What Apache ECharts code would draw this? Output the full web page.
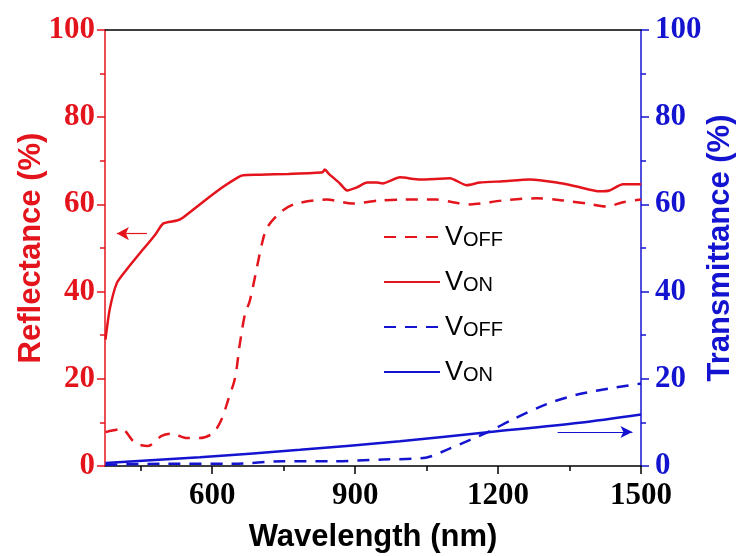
<!DOCTYPE html>
<html>
<head>
<meta charset="utf-8">
<script src="https://cdn.jsdelivr.net/npm/echarts@6/dist/echarts.min.js"></script>
<style>html,body{margin:0;padding:0;background:#fff}#c{width:737px;height:556px}</style>
</head>
<body>
<div id="c"></div>
<script>
// Reflectance, V_OFF (dashed red)
const rOffX = [376, 381, 410, 438, 465, 494, 515, 547, 574, 602, 620, 633, 648, 658, 669, 679, 706, 717, 748, 777, 840, 895, 952, 1000, 1071, 1105, 1141, 1210, 1281, 1336, 1386, 1428, 1462, 1500];
const rOffY = [7.8, 7.9, 8.5, 5.3, 4.6, 6.9, 7.4, 6.4, 6.4, 7.6, 10.8, 15.0, 20.2, 28.0, 34.9, 37.9, 51.7, 55.0, 58.6, 60.2, 61.1, 60.2, 60.9, 61.1, 61.1, 60.5, 60.0, 60.9, 61.4, 60.9, 60.2, 59.5, 60.5, 61.1];
// Reflectance, V_ON (solid red)
const rOnX = [376, 385, 400, 420, 455, 480, 497, 526, 539, 580, 620, 654, 665, 700, 760, 832, 836, 845, 868, 883, 904, 925, 946, 958, 994, 1036, 1099, 1134, 1162, 1210, 1267, 1323, 1365, 1413, 1434, 1462, 1500];
const rOnY = [29, 36, 42, 45, 49.7, 53, 55.6, 56.3, 57, 60.5, 63.8, 66.2, 66.7, 66.8, 67.0, 67.4, 68.0, 67.0, 64.8, 63.2, 63.9, 65.0, 65.0, 64.8, 66.2, 65.7, 66.0, 64.4, 65.0, 65.3, 65.7, 65.0, 64.1, 63.0, 63.2, 64.6, 64.6];
// Transmittance, V_OFF (dashed blue)
const tOffX = [376, 505, 644, 748, 853, 958, 1048, 1092, 1139, 1183, 1231, 1302, 1371, 1441, 1500];
const tOffY = [0.3, 0.5, 0.5, 1.1, 1.1, 1.5, 1.9, 3.7, 5.9, 8.0, 10.7, 14.2, 16.5, 17.9, 18.9];
// Transmittance, V_ON (solid blue)
const tOnX = [376, 574, 784, 994, 1183, 1371, 1500];
const tOnY = [0.7, 2.0, 3.7, 5.7, 7.8, 9.9, 11.8];
// tick labels
const xLabels = [600, 900, 1200, 1500];
const xMajorTicks = [600, 900, 1200, 1500];
const xMinorTicks = [450, 750, 1050, 1350];

const RED = '#e4141c';
const BLUE = '#1414d0';
const pairs = (xs, ys) => xs.map((x, i) => [x, ys[i]]);

const chart = echarts.init(document.getElementById('c'));
const tickFont = { fontFamily: 'Liberation Serif', fontWeight: 'bold', fontSize: 31 };
const titleFont = { fontFamily: 'Liberation Sans', fontWeight: 'bold', fontSize: 31 };

chart.setOption({
  animation: false,
  grid: { left: 105, right: 96, top: 30, bottom: 90, outerBoundsMode: 'none', containLabel: false },
  legend: {
    orient: 'vertical',
    left: 378,
    top: 210,
    itemWidth: 56,
    itemHeight: 14,
    itemGap: 9,
    itemStyle: { opacity: 0 },
    data: ['ROFF', 'RON', 'TOFF', 'TON'],
    formatter: function (name) {
      return '{v|V}{s|' + (name.indexOf('OFF') >= 0 ? 'OFF' : 'ON') + '}';
    },
    textStyle: {
      color: '#000',
      rich: {
        v: { fontFamily: 'Liberation Sans', fontSize: 27, lineHeight: 26, verticalAlign: 'top', color: '#000' },
        s: { fontFamily: 'Liberation Sans', fontSize: 20, lineHeight: 20, padding: [15, 0, 0, 0], verticalAlign: 'bottom', color: '#000' }
      }
    }
  },
  xAxis: [{
    type: 'value', min: 375, max: 1500, position: 'bottom',
    name: 'Wavelength (nm)', nameLocation: 'middle', nameGap: 56, nameMoveOverlap: false,
    nameTextStyle: Object.assign({ color: '#000' }, titleFont),
    axisLine: { lineStyle: { color: '#000', width: 1.5 } },
    axisTick: { customValues: xMajorTicks, length: 8, lineStyle: { color: '#000', width: 1.5 } },
    axisLabel: Object.assign({ customValues: xLabels, color: '#000', margin: 14, formatter: v => String(v) }, tickFont),
    splitLine: { show: false }
  }, {
    type: 'value', min: 375, max: 1500, position: 'bottom',
    axisLine: { show: false },
    axisTick: { customValues: xMinorTicks, length: 5, lineStyle: { color: '#000', width: 1.5 } },
    axisLabel: { show: false },
    splitLine: { show: false }
  }, {
    type: 'value', min: 375, max: 1500, position: 'top',
    axisLine: { lineStyle: { color: '#000', width: 1.5 } },
    axisTick: { show: false }, axisLabel: { show: false }, splitLine: { show: false }
  }],
  yAxis: [{
    type: 'value', min: 0, max: 100, interval: 20, position: 'left',
    name: 'Reflectance (%)', nameLocation: 'middle', nameGap: 58, nameMoveOverlap: false,
    nameTextStyle: Object.assign({ color: RED }, titleFont),
    axisLine: { show: true, lineStyle: { color: RED, width: 1.5 } },
    axisTick: { show: true, length: 8, lineStyle: { color: RED, width: 1.5 } },
    minorTick: { show: true, splitNumber: 2, length: 5, lineStyle: { color: RED, width: 1.5 } },
    axisLabel: Object.assign({ color: RED, margin: 10 }, tickFont),
    splitLine: { show: false }
  }, {
    type: 'value', min: 0, max: 100, interval: 20, position: 'right',
    name: 'Transmittance (%)', nameLocation: 'middle', nameGap: 64, nameMoveOverlap: false,
    nameTextStyle: Object.assign({ color: BLUE }, titleFont),
    axisLine: { show: true, lineStyle: { color: BLUE, width: 1.5 } },
    axisTick: { show: true, length: 8, lineStyle: { color: BLUE, width: 1.5 } },
    minorTick: { show: true, splitNumber: 2, length: 5, lineStyle: { color: BLUE, width: 1.5 } },
    axisLabel: Object.assign({ color: BLUE, margin: 14 }, tickFont),
    splitLine: { show: false }
  }],
  series: [{
    name: 'ROFF', type: 'line', yAxisIndex: 0, showSymbol: false, symbol: 'none',
    data: pairs(rOffX, rOffY), smooth: 0.3,
    lineStyle: { color: RED, width: 2.5, type: [12, 9] }, itemStyle: { color: RED }
  }, {
    name: 'RON', type: 'line', yAxisIndex: 0, showSymbol: false, symbol: 'none',
    data: pairs(rOnX, rOnY), smooth: 0.2,
    lineStyle: { color: RED, width: 2.5 }, itemStyle: { color: RED },
    markLine: {
      silent: true, symbol: ['none', 'arrow'], symbolSize: [10, 12],
      label: { show: false },
      lineStyle: { color: RED, width: 1.2, type: 'solid' },
      data: [[{ coord: [463, 53.3] }, { coord: [400, 53.3] }]]
    }
  }, {
    name: 'TOFF', type: 'line', yAxisIndex: 1, showSymbol: false, symbol: 'none',
    data: pairs(tOffX, tOffY), smooth: 0.3,
    lineStyle: { color: BLUE, width: 2.5, type: [12, 9] }, itemStyle: { color: BLUE }
  }, {
    name: 'TON', type: 'line', yAxisIndex: 1, showSymbol: false, symbol: 'none',
    data: pairs(tOnX, tOnY), smooth: 0.3,
    lineStyle: { color: BLUE, width: 2.5 }, itemStyle: { color: BLUE },
    markLine: {
      silent: true, symbol: ['none', 'arrow'], symbolSize: [9, 12],
      label: { show: false },
      lineStyle: { color: BLUE, width: 1.2, type: 'solid' },
      data: [[{ coord: [1325, 7.8] }, { coord: [1482, 7.8] }]]
    }
  }]
});
</script>
</body>
</html>
